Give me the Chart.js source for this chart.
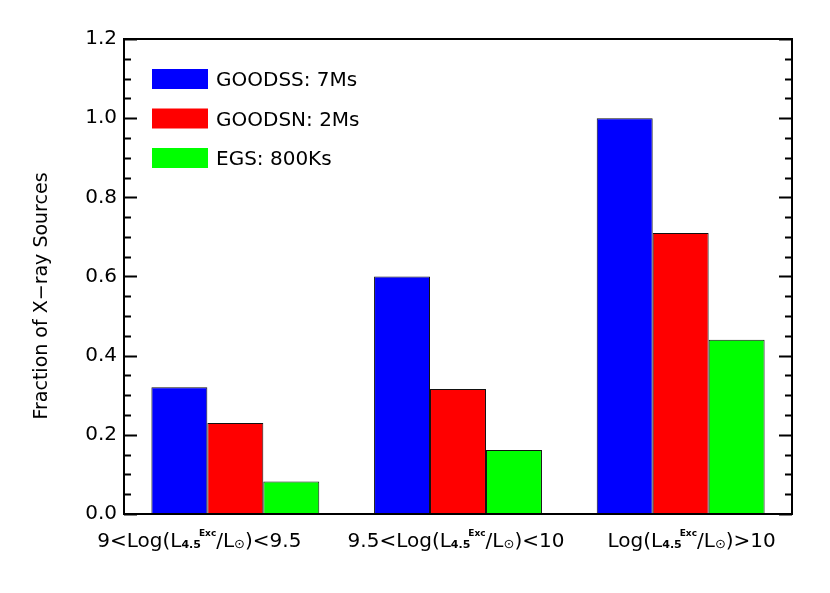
<!DOCTYPE html>
<html>
<head>
<meta charset="utf-8">
<script src="https://cdn.jsdelivr.net/npm/chart.js@4/dist/chart.umd.min.js"></script>
<style>
  html, body { margin: 0; padding: 0; background: #fff; }
  #wrap { width: 830px; height: 593px; }
</style>
</head>
<body>
<div id="wrap"><canvas id="c" width="830" height="593"></canvas></div>
<script>
// bins in log(L_4.5^Exc / L_sun)
const labelPre = ['9<', '9.5<', ''];
const labelPost = ['<9.5', '<10', '>10'];
const categories = ['9-9.5', '9.5-10', '>10'];

const fieldNames = ['GOODSS: 7Ms', 'GOODSN: 2Ms', 'EGS: 800Ks'];
const goodssValues = [0.32, 0.60, 1.00];
const goodsnValues = [0.23, 0.316, 0.71];
const egsValues = [0.082, 0.162, 0.44];

const yTickValues = [0, 0.2, 0.4, 0.6, 0.8, 1.0, 1.2];
const yTitle = 'Fraction of X\u2212ray Sources';

const FONT = 'DejaVu Sans';
const labelShift = [-36, -2, 11]; // the IDL labels are not quite centred under the groups

// box, inward ticks (major + minor) on both y sides, y title
const frame = {
    id: 'frame',
    afterDraw(chart) {
        const { ctx, chartArea: a, scales: { y } } = chart;
        ctx.save();
        ctx.strokeStyle = '#000';
        ctx.lineWidth = 2;
        ctx.strokeRect(a.left, a.top, a.right - a.left, a.bottom - a.top);
        ctx.beginPath();
        for (let i = 0; i <= 24; i++) {
            const py = Math.round(y.getPixelForValue(i * 0.05)) + 0.5;
            const len = i % 4 === 0 ? 13 : 7;
            ctx.moveTo(a.left, py); ctx.lineTo(a.left + len, py);
            ctx.moveTo(a.right, py); ctx.lineTo(a.right - len, py);
        }
        ctx.stroke();

        ctx.translate(42, 296);
        ctx.rotate(-Math.PI / 2);
        ctx.font = '19px "' + FONT + '"';
        ctx.fillStyle = '#000';
        ctx.textAlign = 'center';
        ctx.textBaseline = 'middle';
        ctx.fillText(yTitle, 0, 0);
        ctx.restore();
    }
};

// legend boxes in the upper left of the plot
const boxLegend = {
    id: 'boxLegend',
    afterDraw(chart) {
        const { ctx, chartArea: a } = chart;
        ctx.save();
        ctx.font = '20px "' + FONT + '"';
        ctx.textBaseline = 'middle';
        chart.data.datasets.forEach((ds, i) => {
            const top = a.top + 30 + i * 39.5;
            ctx.fillStyle = ds.backgroundColor;
            ctx.fillRect(a.left + 28, top, 56, 20);
            ctx.fillStyle = '#000';
            ctx.fillText(ds.label, a.left + 92, top + 12);
        });
        ctx.restore();
    }
};

// x labels with sub/superscripts: pre + Log(L_4.5^Exc/L_sun) + post
const xLabels = {
    id: 'xLabels',
    afterDraw(chart) {
        const { ctx, scales: { x } } = chart;
        const big = '20px "' + FONT + '"';
        const sub = 'bold 11px "' + FONT + '"';
        const sup = 'bold 9px "' + FONT + '"';
        const sun = '13px "' + FONT + '"';
        const base = 547;
        ctx.save();
        ctx.fillStyle = '#000';
        ctx.textBaseline = 'alphabetic';
        categories.forEach((c, i) => {
            const parts = [
                [labelPre[i] + 'Log(L', big, 0, 0],
                ['4.5', sub, 1, -2],
                ['Exc', sup, -11, 0],
                ['/L', big, 0, 0],
                ['\u2299', sun, 1, 0],
                [')' + labelPost[i], big, 0, 0]
            ];
            let w = 0;
            parts.forEach(p => { ctx.font = p[1]; w += ctx.measureText(p[0]).width + p[3]; });
            let px = x.getPixelForValue(i) - w / 2 + labelShift[i];
            parts.forEach(p => {
                ctx.font = p[1];
                ctx.fillText(p[0], px, base + p[2]);
                px += ctx.measureText(p[0]).width + p[3];
            });
        });
        ctx.restore();
    }
};

new Chart(document.getElementById('c'), {
    type: 'bar',
    data: {
        labels: categories,
        datasets: [
            { label: fieldNames[0], data: goodssValues, backgroundColor: '#0000FF' },
            { label: fieldNames[1], data: goodsnValues, backgroundColor: '#FF0000' },
            { label: fieldNames[2], data: egsValues, backgroundColor: '#00FF00' }
        ].map(d => Object.assign(d, {
            borderColor: '#111',
            borderWidth: 1,
            borderSkipped: false,
            categoryPercentage: 0.754,
            barPercentage: 1.0
        }))
    },
    options: {
        responsive: false,
        animation: false,
        layout: { padding: { left: 0, top: 39, right: 38, bottom: 0 } },
        plugins: {
            legend: { display: false },
            tooltip: { enabled: false }
        },
        scales: {
            x: {
                offset: true,
                grid: { display: false },
                border: { display: false },
                ticks: { display: false },
                afterFit: s => { s.height = 79; }
            },
            y: {
                min: 0,
                max: 1.2,
                afterBuildTicks: s => { s.ticks = yTickValues.map(v => ({ value: v })); },
                grid: { display: false, drawTicks: false },
                border: { display: false },
                ticks: {
                    padding: 7,
                    color: '#000',
                    font: { family: FONT, size: 20 },
                    callback: v => v.toFixed(1)
                },
                afterFit: s => { s.width = 124; }
            }
        }
    },
    plugins: [frame, boxLegend, xLabels]
});
</script>
</body>
</html>
